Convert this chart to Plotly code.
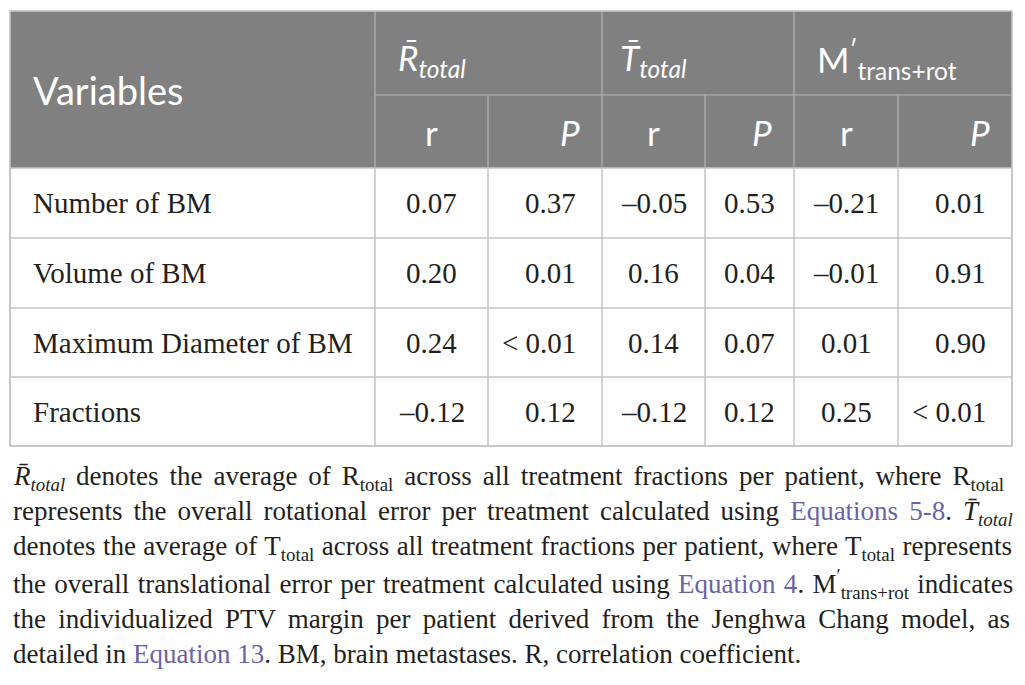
import plotly.graph_objects as go

# データ
variables = ["Number of BM", "Volume of BM", "Maximum Diameter of BM", "Fractions"]
r_rtotal = ["0.07", "0.20", "0.24", "–0.12"]
p_rtotal = ["0.37", "0.01", "< 0.01", "0.12"]
r_ttotal = ["–0.05", "0.16", "0.14", "–0.12"]
p_ttotal = ["0.53", "0.04", "0.07", "0.12"]
r_margin = ["–0.21", "–0.01", "0.01", "0.25"]
p_margin = ["0.01", "0.91", "0.90", "< 0.01"]

group_labels = ["<i>R̄</i><sub><i>total</i></sub>",
                "<i>T̄</i><sub><i>total</i></sub>",
                "M<sup>′</sup><sub>trans+rot</sub>"]
sub_labels = ["r", "<i>P</i>", "r", "<i>P</i>", "r", "<i>P</i>"]

LINK = "#6a63a6"
footnote = [
    "<i>R̄</i><sub><i>total</i></sub> denotes the average of R<sub>total</sub> across all treatment fractions per patient, where R<sub>total</sub>",
    "represents the overall rotational error per treatment calculated using <span style='color:%s'>Equations 5-8</span>. <i>T̄</i><sub><i>total</i></sub>" % LINK,
    "denotes the average of T<sub>total</sub> across all treatment fractions per patient, where T<sub>total</sub> represents",
    "the overall translational error per treatment calculated using <span style='color:%s'>Equation 4</span>. M<sup>′</sup><sub>trans+rot</sub> indicates" % LINK,
    "the individualized PTV margin per patient derived from the Jenghwa Chang model, as",
    "detailed in <span style='color:%s'>Equation 13</span>. BM, brain metastases. R, correlation coefficient." % LINK,
]
# 両端揃えの代わりに語間を広げる（px）
word_gap = [4.2, 4.3, 0.7, 1.6, 5.5, 0]

# レイアウト（グリッド）
col_x = [10, 375, 488, 602, 705, 794, 898, 1012]
head_y = [11, 95, 168]
row_y = [168, 238, 308, 377, 446]
aligns = ["left", "center", "right", "center", "center", "center", "right"]
HEAD_BG = "#808080"
HEAD_LINE = "#b3b3b3"
GRID = "#c4c4c4"
SERIF = "Liberation Serif"
SANS = "Lato"
OFF = 8  # ページ余白の分

fig = go.Figure()
shapes = []
ann = []

# ヘッダー背景
shapes.append(dict(type="rect", x0=col_x[0], x1=col_x[-1], y0=head_y[0], y1=head_y[2],
                   fillcolor=HEAD_BG, line=dict(width=0), layer="below"))

# ヘッダーの線
shapes.append(dict(type="line", x0=col_x[1], x1=col_x[-1], y0=head_y[1], y1=head_y[1],
                   line=dict(color=HEAD_LINE, width=1.2)))
for i, x in enumerate(col_x[1:-1], start=1):
    y0 = head_y[0] if i % 2 == 1 else head_y[1]
    shapes.append(dict(type="line", x0=x, x1=x, y0=y0, y1=head_y[2],
                       line=dict(color=HEAD_LINE, width=1.2)))

# 本体の線
for y in row_y:
    shapes.append(dict(type="line", x0=col_x[0], x1=col_x[-1], y0=y, y1=y,
                       line=dict(color=GRID, width=1.5)))
for x in col_x:
    shapes.append(dict(type="line", x0=x, x1=x, y0=row_y[0], y1=row_y[-1],
                       line=dict(color=GRID, width=1.5)))
shapes.append(dict(type="rect", x0=col_x[0], x1=col_x[-1], y0=head_y[0], y1=row_y[-1],
                   line=dict(color=GRID, width=1.5)))

# ヘッダーテキスト
ann.append(dict(x=col_x[0] + 21, y=(head_y[0] + head_y[2]) / 2, text="Variables",
                xanchor="left", yanchor="middle", showarrow=False,
                font=dict(family=SANS, size=38, color="white")))
group_pad = [21, 16, 21]
for k, lab in enumerate(group_labels):
    ann.append(dict(x=col_x[1 + 2 * k] + group_pad[k], y=59, text=lab,
                    xanchor="left", yanchor="middle", showarrow=False,
                    font=dict(family=SANS, size=35, color="white")))
for j, lab in enumerate(sub_labels):
    x0, x1 = col_x[j + 1], col_x[j + 2]
    if j % 2 == 0:
        x, xa = (x0 + x1) / 2, "center"
    else:
        x, xa = x1 - 20, "right"
    ann.append(dict(x=x, y=(head_y[1] + head_y[2]) / 2, text=lab,
                    xanchor=xa, yanchor="middle", showarrow=False,
                    font=dict(family=SANS, size=35, color="white")))

# 本体テキスト
columns = [variables, r_rtotal, p_rtotal, r_ttotal, p_ttotal, r_margin, p_margin]
for c, vals in enumerate(columns):
    x0, x1 = col_x[c], col_x[c + 1]
    if aligns[c] == "left":
        x = x0 + 21
    elif aligns[c] == "right":
        x = x1 - 24
    else:
        x = (x0 + x1) / 2
    for r, v in enumerate(vals):
        ann.append(dict(x=x, y=(row_y[r] + row_y[r + 1]) / 2, text=v,
                        xanchor=aligns[c], yanchor="middle", showarrow=False,
                        font=dict(family=SERIF, size=29, color="#231f20")))

# 脚注
for i, line in enumerate(footnote):
    txt = "<span style='word-spacing:%spx'>%s</span>" % (word_gap[i], line)
    ann.append(dict(x=col_x[0] + 1, y=478 + i * 35.2, text=txt,
                    xanchor="left", yanchor="middle", showarrow=False,
                    font=dict(family=SERIF, size=27, color="#231f20")))

fig.update_layout(
    width=1025 - 2 * OFF, height=685 - 2 * OFF,
    margin=dict(l=0, r=0, t=0, b=0),
    paper_bgcolor="white", plot_bgcolor="white",
    xaxis=dict(range=[OFF, 1025 - OFF], visible=False, fixedrange=True),
    yaxis=dict(range=[685 - OFF, OFF], visible=False, fixedrange=True),
    shapes=shapes, annotations=ann, showlegend=False,
)

fig.write_html("out.html")
